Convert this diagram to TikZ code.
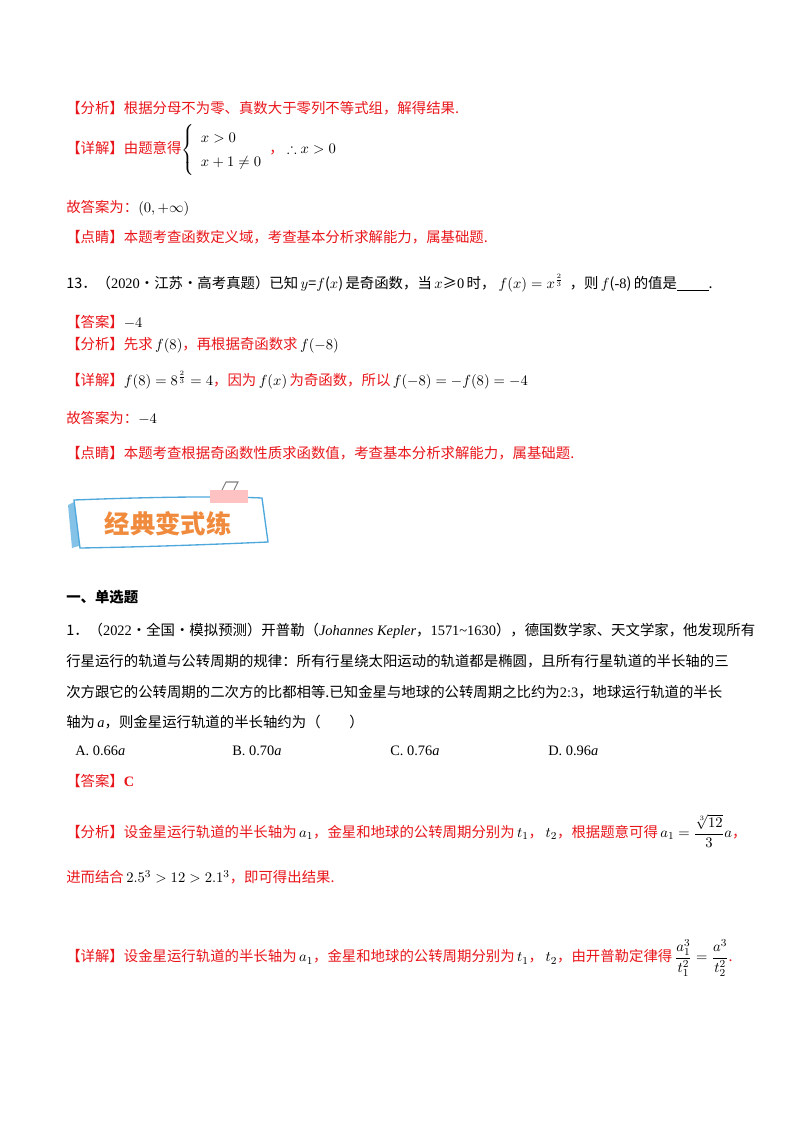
\documentclass[tikz,border=0pt]{standalone}
\usepackage{amsmath,amssymb}
\usepackage{fontspec}
\newfontfamily\cjk{Noto Sans CJK SC}
\setmainfont{Liberation Serif}
\definecolor{rd}{HTML}{E8161B}
\definecolor{org}{HTML}{F08A3C}
\definecolor{sky}{HTML}{4FA8DC}
\newcommand{\rmx}[1]{{\fontspec{Liberation Serif}#1}}
\begin{document}
\begin{tikzpicture}[x=0.75pt,y=-0.75pt,
 t/.style={anchor=west,inner sep=0pt,font=\fontsize{10.8}{12}\selectfont},
 r/.style={t,text=rd},
 k/.style={t,text=black}]
\useasboundingbox (0,0) rectangle (800,1132);
\node[r] (l1) at (66,108) {\cjk 【分析】根据分母不为零、真数大于零列不等式组，解得结果.};
\node[r] (l2) at (66,150) {\cjk 【详解】由题意得\textcolor{black}{\renewcommand{\arraystretch}{1.5}$\left\{\begin{array}{l}x>0\\x+1\neq0\end{array}\right.$}，\ \textcolor{black}{$\therefore x>0$}};
\node[r] (l3) at (66,208) {\cjk 故答案为：\textcolor{black}{$(0,+\infty)$}};
\node[r] (l4) at (66,237) {\cjk 【点睛】本题考查函数定义域，考查基本分析求解能力，属基础题.};
\node[k] (l5) at (66,283) {\cjk 13．（\rmx{2020}·江苏·高考真题）已知\,$y$=$f$($x$)\,是奇函数，当\,$x$≥\rmx{0}\,时，\ $f\!\left(x\right)=x^{\frac{2}{3}}$\ \ ，则\,$f$(\rmx{-8})\,的值是\underline{\hspace{2.2em}}.};
\node[r] (l6) at (66,322) {\cjk 【答案】\textcolor{black}{$-4$}};
\node[r] (l7) at (66,345) {\cjk 【分析】先求\,\textcolor{black}{$f(8)$}，再根据奇函数求\,\textcolor{black}{$f(-8)$}};
\node[r] (l8) at (66,380) {\cjk 【详解】\textcolor{black}{$f(8)=8^{\frac{2}{3}}=4$}，因为\,\textcolor{black}{$f(x)$}\,为奇函数，所以\,\textcolor{black}{$f(-8)=-f(8)=-4$}};
\node[r] (l9) at (66,418) {\cjk 故答案为：\textcolor{black}{$-4$}};
\node[r] (l10) at (66,453) {\cjk 【点睛】本题考查根据奇函数性质求函数值，考查基本分析求解能力，属基础题.};
% banner
\fill[sky!70] (68,505) -- (78,500) -- (82,545) -- (72,548) -- cycle;
\draw[sky,line width=1pt,fill=white] (74,500) .. controls (150,497) and (220,496) .. (262,498) -- (268,542) .. controls (200,545) and (140,547) .. (80,548) -- cycle;
\fill[pink!80!red!60] (210,490) rectangle (248,503);
\draw[gray,line width=0.8pt] (222,490) -- (226,482) -- (238,482) -- (234,490);
\node[inner sep=0pt,text=org,font=\cjk\fontsize{19}{20}\selectfont\bfseries] (ban) at (168,524) {经典变式练};
\node[k] (h1) at (66,597) {\cjk\bfseries 一、单选题};
\node[k] (p1) at (66,631) {\cjk 1．（\rmx{2022}·全国·模拟预测）开普勒（\rmx{\itshape Johannes Kepler}，\rmx{1571\textasciitilde1630}），德国数学家、天文学家，他发现所有};
\node[k] (p2) at (66,661) {\cjk 行星运行的轨道与公转周期的规律：所有行星绕太阳运动的轨道都是椭圆，且所有行星轨道的半长轴的三};
\node[k] (p3) at (66,692) {\cjk 次方跟它的公转周期的二次方的比都相等.已知金星与地球的公转周期之比约为\rmx{2:3}，地球运行轨道的半长};
\node[k] (p4) at (66,722) {\cjk 轴为\,\rmx{\itshape a}，则金星运行轨道的半长轴约为（\qquad）};
\node[k] (oA) at (75,751) {A. 0.66\textit{a}};
\node[k] (oB) at (232,751) {B. 0.70\textit{a}};
\node[k] (oC) at (390,751) {C. 0.76\textit{a}};
\node[k] (oD) at (548,751) {D. 0.96\textit{a}};
\node[r] (a1) at (66,781) {\cjk 【答案】\rmx{\bfseries C}};
\node[r] (f1) at (66,831) {\cjk 【分析】设金星运行轨道的半长轴为\,\textcolor{black}{$a_1$}，金星和地球的公转周期分别为\,\textcolor{black}{$t_1$}，\,\textcolor{black}{$t_2$}，根据题意可得\,\textcolor{black}{$a_1=\dfrac{\sqrt[3]{12}}{3}a$}，};
\node[r] (f2) at (66,877) {\cjk 进而结合\,\textcolor{black}{$2.5^3>12>2.1^3$}，即可得出结果.};
\node[r] (d1) at (66,958) {\cjk 【详解】设金星运行轨道的半长轴为\,\textcolor{black}{$a_1$}，金星和地球的公转周期分别为\,\textcolor{black}{$t_1$}，\,\textcolor{black}{$t_2$}，由开普勒定律得\,\textcolor{black}{$\dfrac{a_1^3}{t_1^2}=\dfrac{a^3}{t_2^2}$}.};
\end{tikzpicture}
\end{document}
